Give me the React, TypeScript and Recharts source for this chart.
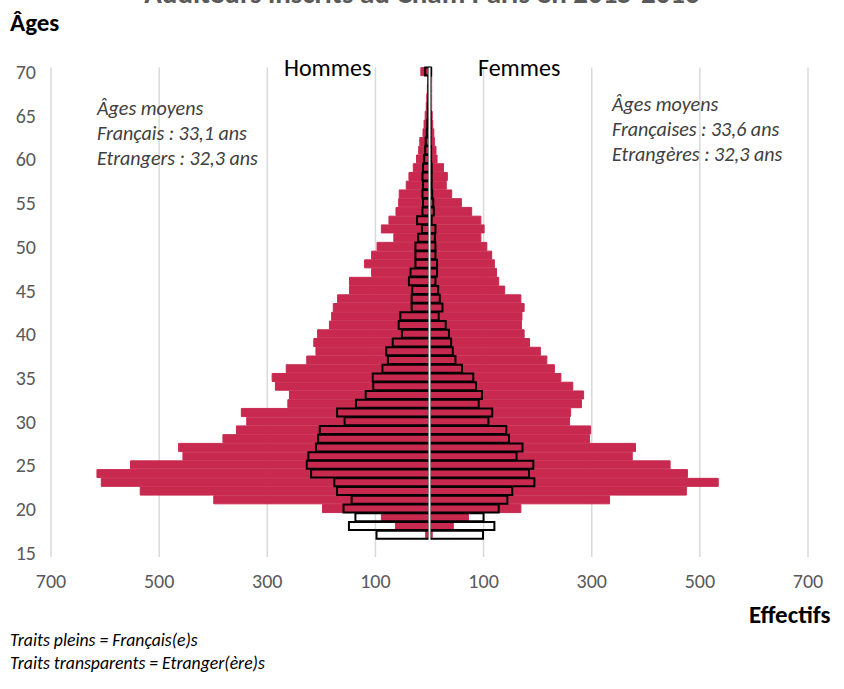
import { Bar, BarChart, CartesianGrid, ReferenceLine, XAxis, YAxis } from "recharts";

// ages de 15 a 70 (15 et 16 : pas d'inscrits)
const AGES = [
  15, 16, 17, 18, 19, 20, 21, 22, 23, 24, 25, 26, 27, 28, 29, 30, 31, 32, 33, 34,
  35, 36, 37, 38, 39, 40, 41, 42, 43, 44, 45, 46, 47, 48, 49, 50, 51, 52, 53, 54,
  55, 56, 57, 58, 59, 60, 61, 62, 63, 64, 65, 66, 67, 68, 69, 70,
];

const HOMMES_FR = [
  0, 0, 7, 63, 89, 198, 399, 535, 607, 615, 553, 456, 464, 382, 357, 338, 348, 262, 259, 285,
  291, 265, 227, 210, 214, 207, 185, 181, 178, 170, 148, 148, 107, 120, 107, 97, 66, 89, 75, 62,
  57, 56, 43, 38, 30, 24, 20, 18, 12, 10, 8, 6, 5, 4, 3, 16,
];
const HOMMES_ET = [
  0, 0, 98, 149, 137, 159, 144, 171, 176, 219, 227, 224, 210, 206, 203, 157, 171, 136, 118, 104,
  105, 87, 77, 80, 68, 51, 57, 54, 33, 33, 32, 38, 35, 26, 26, 26, 21, 14, 23, 13,
  12, 13, 12, 13, 12, 10, 8, 7, 5, 4, 3, 3, 2, 2, 2, 8,
];
const FEMMES_FR = [
  0, 0, 5, 44, 72, 169, 333, 475, 534, 477, 445, 375, 381, 296, 298, 259, 261, 281, 285, 265,
  243, 231, 217, 205, 185, 175, 170, 171, 175, 169, 139, 128, 124, 120, 115, 106, 95, 101, 95, 78,
  59, 41, 31, 33, 26, 14, 12, 9, 8, 6, 5, 4, 4, 4, 4, 4,
];
const FEMMES_ET = [
  0, 0, 99, 120, 100, 128, 144, 153, 194, 184, 192, 161, 172, 147, 142, 109, 116, 91, 97, 86,
  81, 60, 48, 43, 40, 36, 30, 17, 24, 19, 16, 11, 14, 14, 11, 11, 10, 11, 4, 8,
  7, 5, 4, 4, 4, 3, 3, 2, 2, 2, 2, 1, 1, 1, 1, 3,
];

const X_TICKS = [-700, -500, -300, -100, 100, 300, 500, 700];

const RED = "#c8294f";
const FONT = "Carlito, Lato, sans-serif";

const rows = AGES.map((age, i) => ({
  age: String(age),
  hF: -HOMMES_FR[i],
  hE: -HOMMES_ET[i],
  fF: FEMMES_FR[i],
  fE: FEMMES_ET[i],
})).reverse();

const abs = (v: number) => String(Math.abs(v));

function Txt({
  x,
  top,
  size,
  children,
  bold,
  italic,
  color = "#000",
  width,
  center,
}: {
  x: number;
  top: number;
  size: number;
  children: React.ReactNode;
  bold?: boolean;
  italic?: boolean;
  color?: string;
  width?: number;
  center?: boolean;
}) {
  return (
    <div
      style={{
        position: "absolute",
        left: x,
        top,
        width,
        textAlign: center ? "center" : "left",
        fontSize: size,
        lineHeight: 1,
        fontWeight: bold ? 700 : 400,
        fontStyle: italic ? "italic" : "normal",
        color,
        whiteSpace: "nowrap",
      }}
    >
      {children}
    </div>
  );
}

export default function App() {
  return (
    <div
      style={{
        position: "relative",
        width: 844,
        height: 689,
        overflow: "hidden",
        background: "#fff",
        fontFamily: FONT,
      }}
    >
      <style>{`body{margin:0}`}</style>
      <BarChart
        width={844}
        height={689}
        data={rows}
        layout="vertical"
        margin={{ top: 67.6, right: 36, bottom: 102, left: 0 }}
        barCategoryGap={0}
        barGap={-8}
      >
        <CartesianGrid horizontal={false} stroke="#d9d9d9" strokeWidth={1.5} />
        <XAxis
          type="number"
          domain={[-700, 700]}
          ticks={X_TICKS}
          tickFormatter={abs}
          axisLine={false}
          tickLine={false}
          tickMargin={11}
          height={30}
          tick={{ fill: "#595959", fontSize: 20, fontFamily: FONT }}
        />
        <YAxis
          type="category"
          dataKey="age"
          width={51}
          interval={4}
          axisLine={false}
          tickLine={false}
          tickMargin={9}
          tick={{ fill: "#595959", fontSize: 20, fontFamily: FONT }}
        />
        <Bar dataKey="hF" fill={RED} stroke={RED} strokeWidth={1} isAnimationActive={false} />
        <Bar dataKey="fF" fill={RED} stroke={RED} strokeWidth={1} isAnimationActive={false} />
        <Bar dataKey="hE" fill="none" stroke="#000" strokeWidth={2} isAnimationActive={false} />
        <Bar dataKey="fE" fill="none" stroke="#000" strokeWidth={2} isAnimationActive={false} />
        <ReferenceLine x={0} stroke="#fff" strokeWidth={2} />
      </BarChart>

      <Txt x={0} width={844} center top={-20.7} size={29} bold color="#595959">
        Auditeurs inscrits au Cnam Paris en 2015-2016
      </Txt>
      <Txt x={10} top={10} size={25} bold>
        Âges
      </Txt>
      <Txt x={284} top={56} size={24}>
        Hommes
      </Txt>
      <Txt x={478} top={56} size={24}>
        Femmes
      </Txt>

      <Txt x={97} top={97.5} size={20} italic color="#404040">
        Âges moyens
      </Txt>
      <Txt x={97} top={122.5} size={20} italic color="#404040">
        Français : 33,1 ans
      </Txt>
      <Txt x={97} top={147.5} size={20} italic color="#404040">
        Etrangers : 32,3 ans
      </Txt>

      <Txt x={612} top={93.5} size={20} italic color="#404040">
        Âges moyens
      </Txt>
      <Txt x={612} top={118.5} size={20} italic color="#404040">
        Françaises : 33,6 ans
      </Txt>
      <Txt x={612} top={143.5} size={20} italic color="#404040">
        Etrangères : 32,3 ans
      </Txt>

      <Txt x={749} top={601.5} size={25} bold>
        Effectifs
      </Txt>
      <Txt x={10} top={632} size={17.7} italic>
        Traits pleins = Français(e)s
      </Txt>
      <Txt x={10} top={655} size={17.7} italic>
        Traits transparents = Etranger(ère)s
      </Txt>
    </div>
  );
}
